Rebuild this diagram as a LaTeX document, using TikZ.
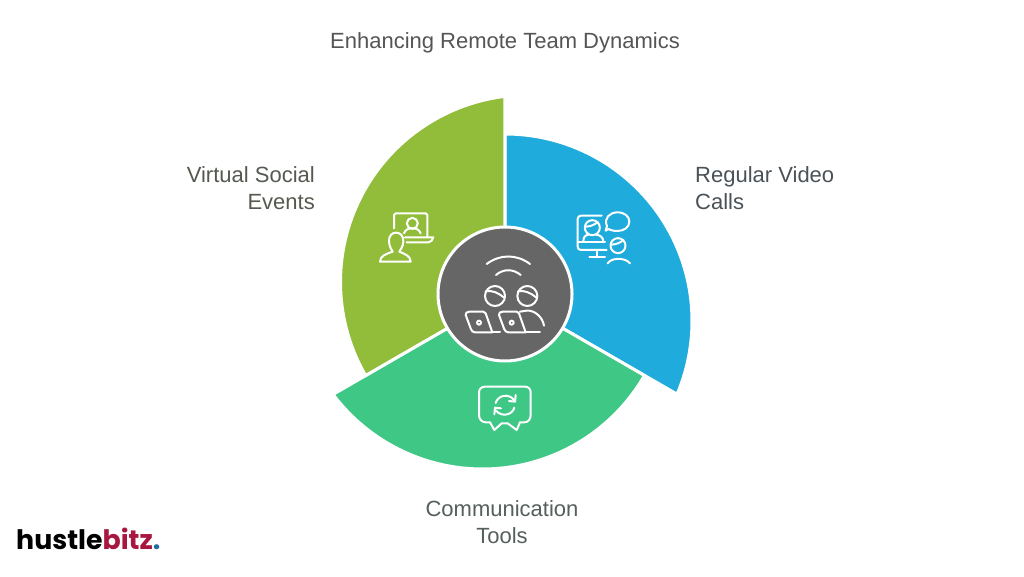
\documentclass[tikz,border=0pt]{standalone}
\usepackage{fontspec}
\setmainfont{Liberation Sans}
\newfontfamily\logofont{Poppins}
\definecolor{cblue}{HTML}{1FABDC}
\definecolor{cgreen}{HTML}{3EC785}
\definecolor{colive}{HTML}{92BD3A}
\definecolor{cgrey}{HTML}{666666}
\definecolor{ttitle}{HTML}{555555}
\definecolor{tolive}{HTML}{555A50}
\definecolor{tblue}{HTML}{4A5258}
\definecolor{tgreen}{HTML}{55605B}
\definecolor{lred}{HTML}{A8173F}
\definecolor{lblue}{HTML}{1F6F9E}
\tikzset{
  sector/.style={draw=white,line width=3pt,line join=miter},
  labeltext/.style={font=\fontsize{22}{27}\selectfont,inner sep=0pt},
  iconline/.style={draw=white,line width=2pt,line cap=round,line join=round},
}
\begin{document}
\begin{tikzpicture}[x=1pt,y=1pt]
\useasboundingbox (0,0) rectangle (1024,576);
\fill[white] (0,0) rectangle (1024,576);
\coordinate (O) at (505,281);
% sectors
\path[sector,fill=cblue] (O) -- ++(90:161) arc[start angle=90,end angle=-23.04,radius=187pt] -- cycle;
\path[sector,fill=cgreen] (O) -- ++(-30:161) arc[start angle=-30,end angle=-143.04,radius=187pt] -- cycle;
\path[sector,fill=colive] (O) -- ++(-150:161) arc[start angle=-150,end angle=-263.04,radius=187pt] -- cycle;
\node[circle,fill=cgrey,draw=white,line width=3pt,minimum size=134pt,inner sep=0pt] (hub) at (505,282) {};
% centre icon
\begin{scope}[x=0.3333pt,y=-0.3333pt,shift={(420pt,366pt)}]
\draw[iconline] (200,162) .. controls (240,132) and (290,132) .. (330,162);
\draw[iconline] (228,195) .. controls (250,176) and (280,176) .. (302,195);
\draw[iconline] (225,258) circle[radius=10pt];
\draw[iconline] (322,258) circle[radius=10pt];
\draw[iconline] (197,244) .. controls (215,240) and (235,248) .. (251,262);
\draw[iconline] (294,244) .. controls (312,240) and (332,248) .. (348,262);
\draw[iconline] (148,305) -- (190,305) .. controls (194,305) and (196,307) .. (197,310) -- (217,367) -- (165,367) .. controls (159,367) and (155,363) .. (153,358) -- (137,315) .. controls (136,309) and (141,305) .. (148,305);
\draw[iconline] (248,305) -- (290,305) .. controls (294,305) and (296,307) .. (297,310) -- (317,367) -- (265,367) .. controls (259,367) and (255,363) .. (253,358) -- (237,315) .. controls (236,309) and (241,305) .. (248,305);
\draw[iconline] (177,338) circle[radius=2pt];
\draw[iconline] (275,338) circle[radius=2pt];
\draw[iconline] (217,367) -- (240,367);
\draw[iconline] (317,367) -- (360,367);
\draw[iconline] (300,305) -- (320,302) .. controls (345,300) and (368,322) .. (372,347);
\end{scope}
% video calls icon
\begin{scope}[x=0.3333pt,y=-0.3333pt,shift={(560pt,376pt)}]
\draw[iconline] (125,47) -- (63,47) .. controls (57,47) and (53,51) .. (53,57) -- (53,140) .. controls (53,146) and (57,150) .. (63,150) -- (140,150);
\draw[iconline] (53,125) -- (135,125);
\draw[iconline] (112,150) -- (112,172);
\draw[iconline] (88,172) -- (135,172);
\draw[iconline] (97,83) circle[radius=7.5pt];
\draw[iconline] (76,80) .. controls (90,80) and (105,74) .. (113,66);
\draw[iconline] (70,125) .. controls (70,112) and (75,105) .. (86,104);
\draw[iconline] (108,104) .. controls (120,105) and (130,112) .. (130,125);
\draw[iconline] (137,92) -- (141,78) .. controls (130,55) and (150,37) .. (172,37) .. controls (195,37) and (208,50) .. (208,65) .. controls (208,82) and (192,93) .. (172,93) .. controls (160,93) and (150,90) .. (146,87) -- cycle;
\draw[iconline] (174,137) circle[radius=7.5pt];
\draw[iconline] (153,134) .. controls (167,134) and (182,128) .. (190,120);
\draw[iconline] (143,190) .. controls (155,172) and (195,172) .. (210,190);
\end{scope}
% social events icon
\begin{scope}[x=0.3333pt,y=-0.3333pt,shift={(365pt,376pt)}]
\draw[iconline] (87,85) -- (87,45) .. controls (87,42) and (89,40) .. (92,40) -- (182,40) .. controls (185,40) and (187,42) .. (187,45) -- (187,112);
\draw[iconline] (120,112) -- (205,112) .. controls (203,120) and (198,127) .. (190,127) -- (125,127);
\draw[iconline] (142,70) circle[radius=5.5pt];
\draw[iconline] (117,100) .. controls (122,88) and (130,85) .. (142,85) .. controls (154,85) and (162,88) .. (167,100);
\draw[iconline] (93,98) .. controls (80,98) and (71,108) .. (72,125) .. controls (73,140) and (79,148) .. (83,155) .. controls (60,163) and (46,168) .. (45,185) -- (137,185) .. controls (136,168) and (122,163) .. (103,155) .. controls (107,148) and (114,140) .. (115,125) .. controls (116,108) and (106,98) .. (93,98);
\end{scope}
% communication icon
\begin{scope}[x=0.3333pt,y=-0.3333pt,shift={(465pt,201pt)}]
\draw[iconline] (60,35) -- (180,35) .. controls (190,35) and (197,42) .. (197,52) -- (197,120) .. controls (197,132) and (190,142) .. (178,142) -- (165,142) -- (155,165) -- (128,145) -- (110,145) -- (88,165) -- (75,142) -- (62,142) .. controls (50,142) and (42,132) .. (42,120) -- (42,52) .. controls (42,42) and (50,35) .. (60,35) -- cycle;
\draw[iconline] (92,84) .. controls (98,62) and (130,52) .. (148,76);
\draw[iconline] (152,60) -- (150,80) -- (132,78);
\draw[iconline] (148,98) .. controls (142,120) and (110,128) .. (92,106);
\draw[iconline] (88,118) -- (90,98) -- (108,100);
\end{scope}
% texts
\node[labeltext,text=ttitle,anchor=base] (t) at (505,527) {Enhancing Remote Team Dynamics};
\node[labeltext,text=tolive,align=right,anchor=east] (virt) at (315,388) {Virtual Social\\Events};
\node[labeltext,text=tblue,align=left,anchor=west] (video) at (695,388) {Regular Video\\Calls};
\node[labeltext,text=tgreen,align=center,anchor=center] (comm) at (502,54) {Communication\\Tools};
\node[inner sep=0pt,anchor=base west,font=\logofont\bfseries\fontsize{26.8}{27}\selectfont] (logo) at (16,27) {hustle\textcolor{lred}{bitz}\textcolor{lblue}{.}};
\end{tikzpicture}
\end{document}
